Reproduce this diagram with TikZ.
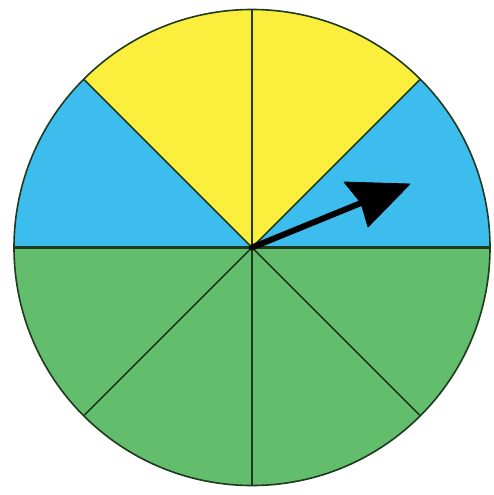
\documentclass[tikz,border=0pt]{standalone}
\usetikzlibrary{calc}
\definecolor{spinyellow}{HTML}{FCEE3C}
\definecolor{spinblue}{HTML}{3DBDEE}
\definecolor{spingreen}{HTML}{62BD6C}
\definecolor{spinline}{HTML}{1F3A1F}
\begin{document}
\begin{tikzpicture}[x=1pt,y=-1pt,
  sector/.style={draw=spinline,line width=1.6pt,line join=round},
  pointer/.style={fill=black,draw=black,line width=0.8pt,line join=round}]
\useasboundingbox (0,0) rectangle (494,495);
\fill[white] (0,0) rectangle (494,495);
\coordinate (c) at (252,247.5);
\def\R{238}
\foreach \a/\col in {0/spinblue,45/spinyellow,90/spinyellow,135/spinblue,180/spingreen,225/spingreen,270/spingreen,315/spingreen}{
  \fill[\col] (c) -- ++(-\a:\R) arc[start angle=-\a,end angle=-\a-45,radius=\R] -- cycle;
}
\foreach \a in {45,90,...,315}{
  \draw[sector] (c) -- ++(-\a:\R);
}
\draw[sector,line width=2.6pt] ($(c)+(-\R,0)$) -- ($(c)+(\R,0)$);
\draw[sector] (c) circle[radius=\R];
% pointer
\coordinate (tip) at (410,184);
\coordinate (b1) at (344,182);
\coordinate (b2) at (368,227);
\coordinate (notch) at (361,203);
\draw[line width=6pt,line cap=round] (c) -- (notch);
\fill[pointer] (tip) -- (b1) -- (notch) -- (b2) -- cycle;
\end{tikzpicture}
\end{document}
